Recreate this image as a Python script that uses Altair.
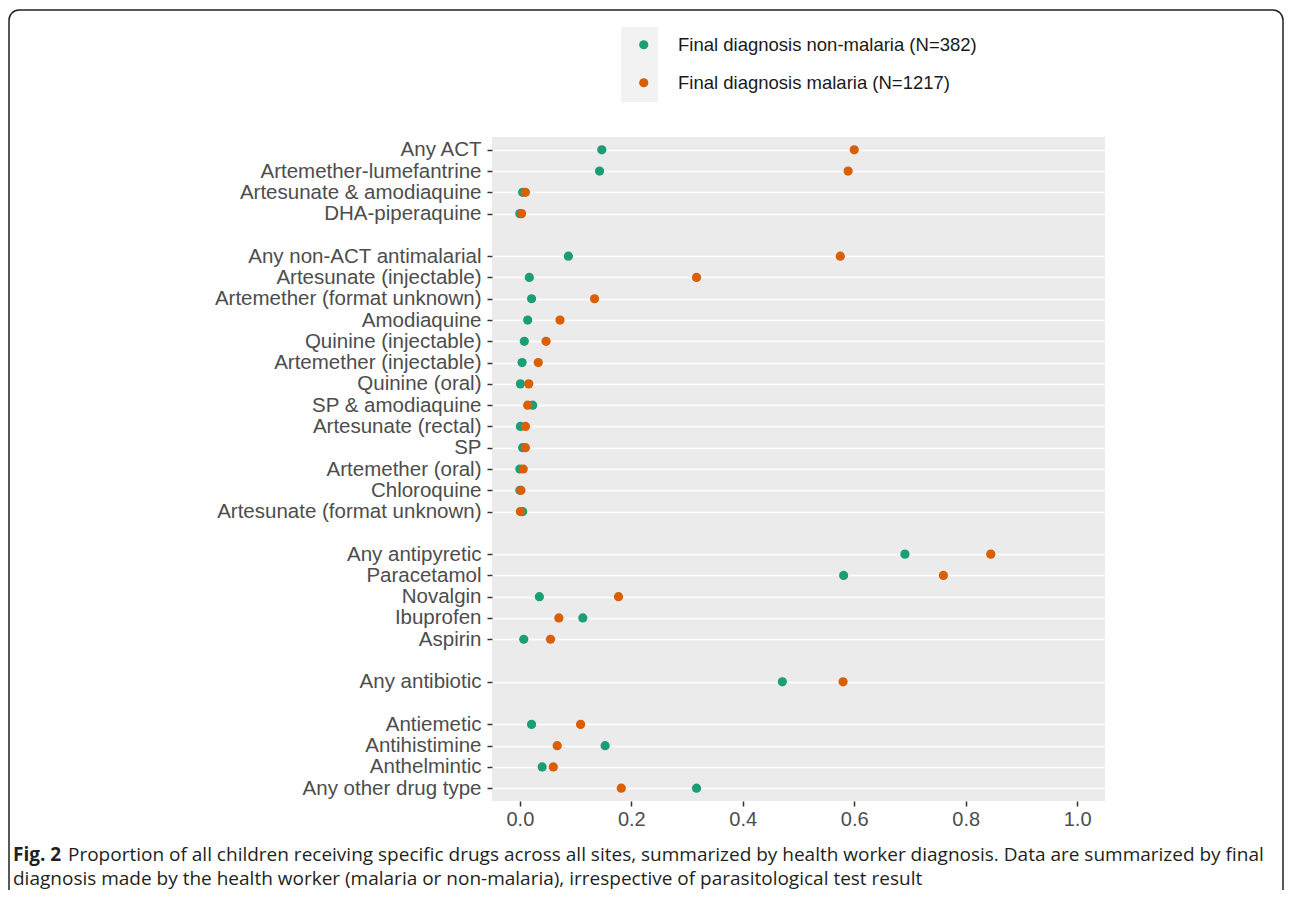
import json
import altair as alt
import pandas as pd

# ---------------- data ----------------
groups = [
    ["Any ACT", "Artemether-lumefantrine", "Artesunate & amodiaquine", "DHA-piperaquine"],
    ["Any non-ACT antimalarial", "Artesunate (injectable)", "Artemether (format unknown)",
     "Amodiaquine", "Quinine (injectable)", "Artemether (injectable)", "Quinine (oral)",
     "SP & amodiaquine", "Artesunate (rectal)", "SP", "Artemether (oral)", "Chloroquine",
     "Artesunate (format unknown)"],
    ["Any antipyretic", "Paracetamol", "Novalgin", "Ibuprofen", "Aspirin"],
    ["Any antibiotic"],
    ["Antiemetic", "Antihistimine", "Anthelmintic", "Any other drug type"],
]

non_malaria = [0.147, 0.143, 0.005, 0.000,
               0.087, 0.017, 0.021, 0.014, 0.008, 0.004, 0.001, 0.023, 0.001, 0.005, 0.000, 0.000, 0.005,
               0.691, 0.581, 0.035, 0.113, 0.007,
               0.471,
               0.021, 0.153, 0.040, 0.317]
malaria = [0.600, 0.589, 0.010, 0.003,
           0.575, 0.317, 0.134, 0.072, 0.047, 0.033, 0.016, 0.014, 0.010, 0.010, 0.006, 0.002, 0.001,
           0.845, 0.760, 0.177, 0.070, 0.055,
           0.580,
           0.109, 0.067, 0.060, 0.182]

series_names = ["Final diagnosis non-malaria (N=382)", "Final diagnosis malaria (N=1217)"]
series_colors = ["#1B9E77", "#D95F02"]
x_ticks = [0.0, 0.2, 0.4, 0.6, 0.8, 1.0]

caption_bold = "Fig. 2"
caption_line1 = ("Proportion of all children receiving specific drugs across all sites, summarized by "
                 "health worker diagnosis. Data are summarized by final")
caption_line2 = ("diagnosis made by the health worker (malaria or non-malaria), irrespective of "
                 "parasitological test result")

# ---------------- table ----------------
drugs, slots = [], []
slot = 0
for gi, g in enumerate(groups):
    if gi > 0:
        slot += 1  # blank row between groups
    for d in g:
        drugs.append(d)
        slots.append(slot)
        slot += 1
n_slots = slot
slot_labels = [""] * n_slots
for d, s in zip(drugs, slots):
    slot_labels[s] = d

rows = []
for name, vals in zip(series_names, [non_malaria, malaria]):
    for d, s, v in zip(drugs, slots, vals):
        rows.append({"drug": d, "slot": s, "prop": v, "series": name})
df = pd.DataFrame(rows)

W, H = 613, 664
FONT = "Liberation Sans"

points = alt.Chart(df).mark_circle(size=85, opacity=1).encode(
    x=alt.X("prop:Q",
            scale=alt.Scale(domain=[-0.05, 1.05], nice=False, zero=False),
            axis=alt.Axis(values=x_ticks, format=".1f", grid=False, domain=False,
                          tickSize=5, tickColor="#333333", tickWidth=1.5,
                          labelFontSize=20, labelColor="#4D4D4D", labelPadding=3,
                          labelFont=FONT, title=None)),
    y=alt.Y("slot:Q",
            scale=alt.Scale(domain=[-0.6, n_slots - 0.4], reverse=True, nice=False, zero=False),
            axis=alt.Axis(values=slots, labelExpr=f"{json.dumps(slot_labels)}[datum.value]",
                          grid=True, gridColor="white", gridWidth=1.6, domain=False,
                          tickSize=5, tickColor="#333333", tickWidth=1.5,
                          labelFontSize=20.5, labelColor="#4D4D4D", labelPadding=6,
                          labelLimit=0, labelOverlap=False, labelBound=False,
                          labelFont=FONT, title=None)),
    color=alt.Color("series:N",
                    scale=alt.Scale(domain=series_names, range=series_colors),
                    legend=alt.Legend(title=None, orient="none", legendX=142.5, legendY=-101.5,
                                      symbolType="circle", symbolSize=85, symbolStrokeWidth=0,
                                      labelFontSize=18.5, labelColor="#1A1A1A", labelFont=FONT,
                                      labelLimit=0, rowPadding=19, labelOffset=25, padding=0)),
)

one = alt.Data(values=[{}])

key_bg = alt.Chart(one).mark_rect(color="#F2F2F2").encode(
    x=alt.value(129), x2=alt.value(166), y=alt.value(-110), y2=alt.value(-35))

frame = alt.Chart(one).mark_rect(fillOpacity=0, stroke="#222222", strokeWidth=1.5,
                                 cornerRadius=10).encode(
    x=alt.value(-483), x2=alt.value(791), y=alt.value(-127), y2=alt.value(820))

CAP_FS = 19
cap_b = alt.Chart(one).mark_text(align="left", baseline="middle", font="Open Sans",
                                 fontWeight="bold", fontSize=CAP_FS, color="#231F20").encode(
    x=alt.value(-479), y=alt.value(718), text=alt.value(caption_bold))
cap_1 = alt.Chart(one).mark_text(align="left", baseline="middle", font="Open Sans",
                                 fontSize=CAP_FS, color="#231F20").encode(
    x=alt.value(-424), y=alt.value(718), text=alt.value(caption_line1))
cap_2 = alt.Chart(one).mark_text(align="left", baseline="middle", font="Open Sans",
                                 fontSize=CAP_FS, color="#231F20").encode(
    x=alt.value(-479), y=alt.value(742), text=alt.value(caption_line2))

chart = alt.layer(key_bg, points, frame, cap_b, cap_1, cap_2).properties(
    width=W, height=H,
    autosize=alt.AutoSizeParams(type="none"),
    padding={"left": 484, "top": 129, "right": 179, "bottom": 89},
).configure_view(fill="#EBEBEB", strokeWidth=0)

chart.save("out.html", embed_options={"renderer": "svg", "actions": False})
